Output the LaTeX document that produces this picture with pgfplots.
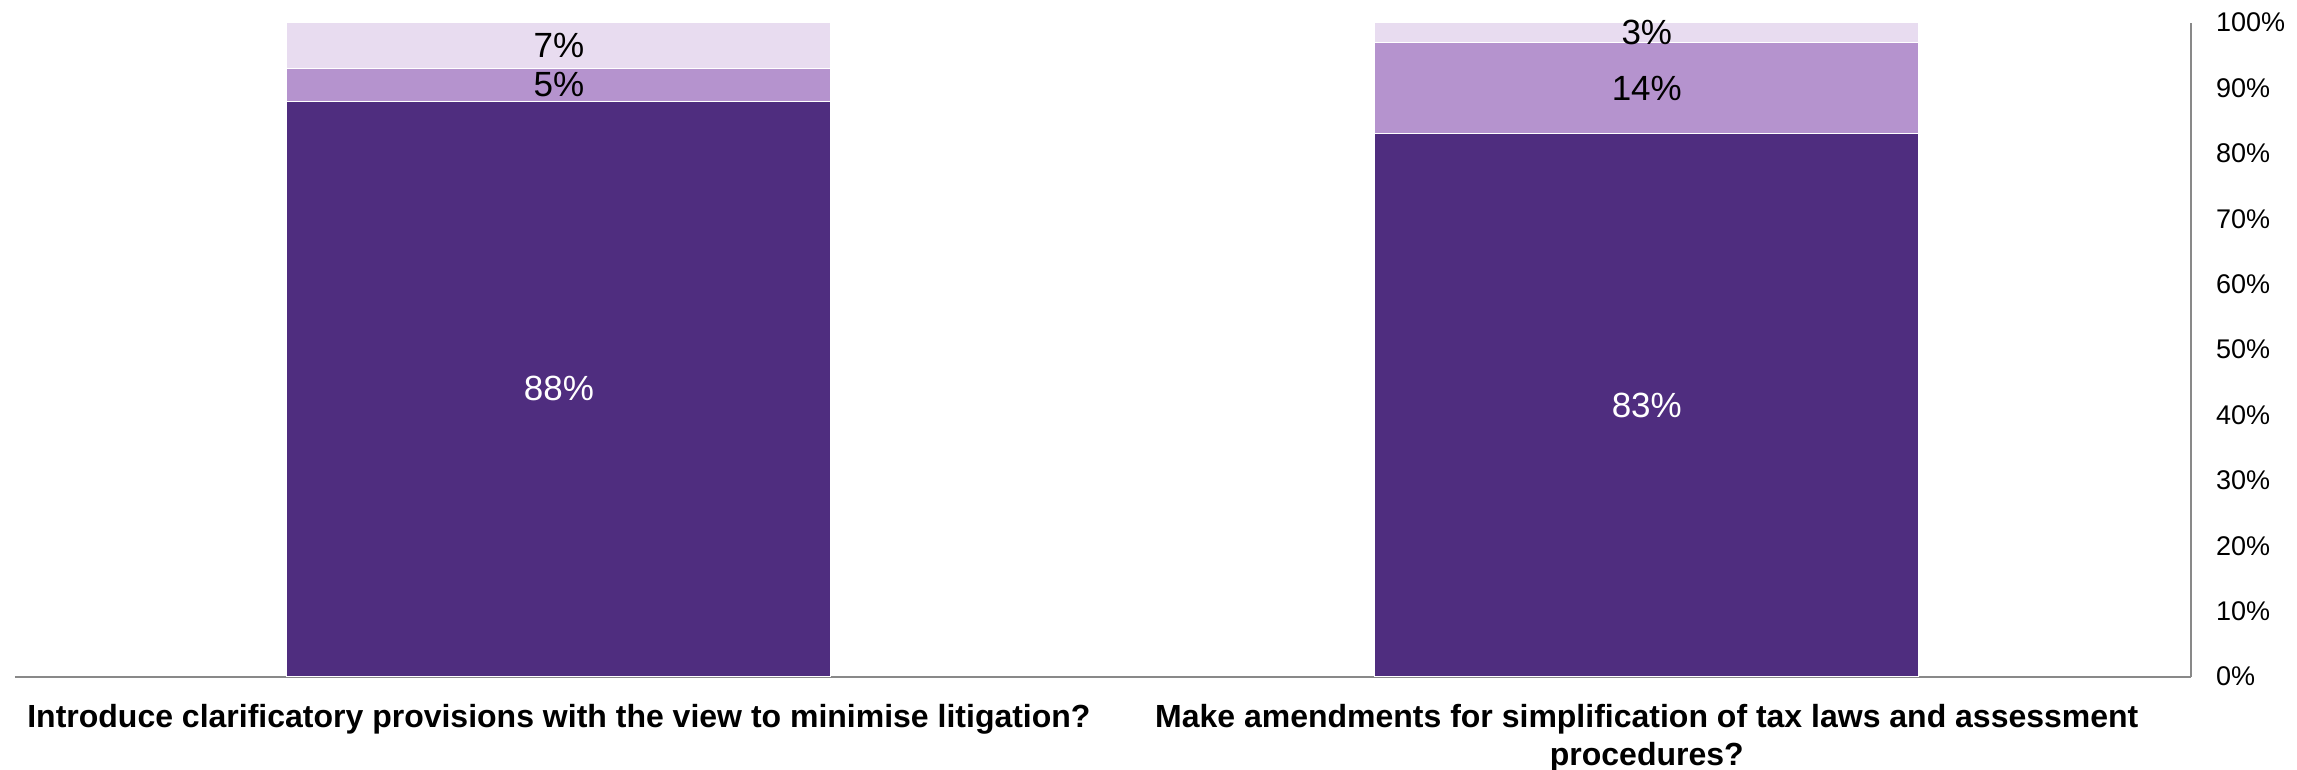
\documentclass[border=0pt]{standalone}
\usepackage{pgfplots}
\pgfplotsset{compat=1.18}
\usepackage{fontspec}
\setmainfont{Liberation Sans}
\definecolor{gtdark}{RGB}{79,45,127}
\definecolor{gtmid}{RGB}{181,147,206}
\definecolor{gtlight}{RGB}{232,220,240}
\definecolor{axgray}{RGB}{137,137,137}
\begin{document}
\begin{tikzpicture}
\begin{axis}[
  at={(0,0)}, anchor=south west,
  scale only axis,
  width=1088bp, height=327bp,
  ybar stacked,
  bar width=0.5,
  xmin=-0.5, xmax=1.5,
  ymin=0, ymax=100,
  axis x line*=bottom,
  axis y line*=right,
  axis line style={draw=axgray, line width=1bp},
  xtick={0,1},
  xticklabels={Introduce clarificatory provisions with the view to minimise litigation?, {Make amendments for simplification of tax laws and assessment\\procedures?}},
  xticklabel style={anchor=north, inner sep=0pt, yshift=-13.5bp, align=center, font=\fontsize{16bp}{19bp}\selectfont\bfseries},
  ytick={0,10,...,100},
  yticklabel={\pgfmathprintnumber[assume math mode=true]{\tick}\%},
  yticklabel style={anchor=west, inner sep=0pt, xshift=12.5bp, font=\fontsize{13.5bp}{15bp}\selectfont},
  major tick length=0pt,
  tick style={draw=none},
  nodes near coords={\pgfmathprintnumber[assume math mode=true]{\pgfplotspointmeta}\%},
  every node near coord/.append style={anchor=center, inner sep=0pt, font=\fontsize{17.5bp}{20bp}\selectfont},
  clip=false,
]
\addplot[fill=gtdark, draw=white, line width=0.5bp, every node near coord/.append style={text=white}] coordinates {(0,88) (1,83)};
\addplot[fill=gtmid, draw=white, line width=0.5bp, every node near coord/.append style={text=black}] coordinates {(0,5) (1,14)};
\addplot[fill=gtlight, draw=white, line width=0.5bp, every node near coord/.append style={text=black}] coordinates {(0,7) (1,3)};
\end{axis}
\pgfresetboundingbox
\path (-7.5bp,-46.65bp) rectangle (1141.15bp,338.35bp);
\end{tikzpicture}
\end{document}
